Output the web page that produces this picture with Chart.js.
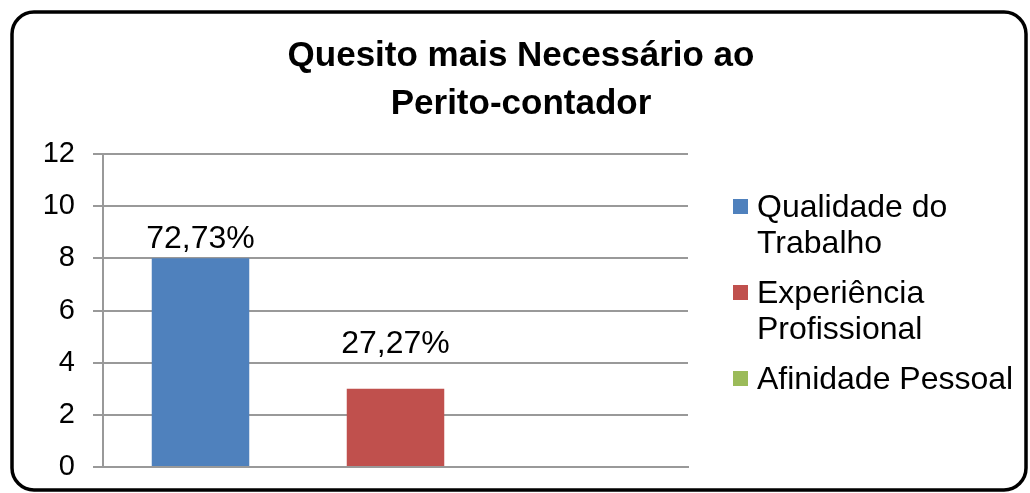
<!DOCTYPE html>
<html>
<head>
<meta charset="utf-8">
<script src="https://cdn.jsdelivr.net/npm/chart.js@4/dist/chart.umd.min.js"></script>
<style>
  html, body { margin: 0; padding: 0; background: #fff; }
  #wrap { width: 1030px; height: 493px; position: relative; }
</style>
</head>
<body>
<div id="wrap"><canvas id="chart"></canvas></div>
<script>
/* ── DATA ─────────────────────────────────────── */
const titleLines = ['Quesito mais Necessário ao', 'Perito-contador'];
const categories = ['Qualidade do Trabalho', 'Experiência Profissional', 'Afinidade Pessoal'];
const legendLines = [['Qualidade do', 'Trabalho'], ['Experiência', 'Profissional'], ['Afinidade Pessoal']];
const values = [8, 3, 0];
const yTicks = [0, 2, 4, 6, 8, 10, 12];
const colors = ['#4F81BD', '#C0504D', '#9BBB59'];

const FONT = "'Liberation Sans', Arial, sans-serif";
Chart.defaults.font.family = FONT;
Chart.defaults.color = '#000';

const total = values.reduce((a, b) => a + b, 0);
const pctText = v => (v / total * 100).toFixed(2).replace('.', ',') + '%';

// distance between label baseline and bar top (labels were moved by hand in the original)
const labelGap = [10, 36, 0];

/* ── PLUGINS ──────────────────────────────────── */
const frame = {
    id: 'frame',
    beforeDraw(chart) {
        const ctx = chart.ctx;
        ctx.save();
        ctx.lineWidth = 3.5;
        ctx.strokeStyle = '#000';
        ctx.beginPath();
        ctx.roundRect(12, 12, 1014, 478, 22);
        ctx.stroke();
        ctx.restore();
    }
};

const headAndLegend = {
    id: 'headAndLegend',
    afterDraw(chart) {
        const { ctx, chartArea } = chart;
        ctx.save();
        // title
        ctx.fillStyle = '#000';
        ctx.textAlign = 'center';
        ctx.textBaseline = 'alphabetic';
        ctx.font = 'bold 35px ' + FONT;
        titleLines.forEach((t, i) => ctx.fillText(t, 521, 66 + i * 48));

        // legend
        ctx.font = '32px ' + FONT;
        ctx.textAlign = 'left';
        let y = chartArea.top + 63;
        const x = chartArea.right + 45;
        legendLines.forEach((lines, i) => {
            ctx.fillStyle = colors[i];
            ctx.fillRect(x, y - 18, 15, 15);
            ctx.fillStyle = '#000';
            lines.forEach(l => { ctx.fillText(l, x + 24, y); y += 36; });
            y += 14;
        });
        ctx.restore();
    }
};

const barLabels = {
    id: 'barLabels',
    afterDatasetsDraw(chart) {
        const ctx = chart.ctx;
        const meta = chart.getDatasetMeta(0);
        ctx.save();
        ctx.font = '32px ' + FONT;
        ctx.fillStyle = '#000';
        ctx.textAlign = 'center';
        ctx.textBaseline = 'alphabetic';
        meta.data.forEach((bar, i) => {
            if (!values[i]) return;
            ctx.fillText(pctText(values[i]), bar.x, bar.y - labelGap[i]);
        });
        ctx.restore();
    }
};

/* ── CHART ────────────────────────────────────── */
new Chart(document.getElementById('chart'), {
    type: 'bar',
    data: {
        labels: categories,
        datasets: [{
            data: values,
            backgroundColor: colors,
            categoryPercentage: 1,
            barPercentage: 0.5
        }]
    },
    options: {
        responsive: true,
        maintainAspectRatio: false,
        animation: false,
        layout: { padding: { left: 12, top: 154, right: 342, bottom: 26 } },
        plugins: {
            legend: { display: false },
            title: { display: false },
            tooltip: { enabled: false }
        },
        scales: {
            x: {
                ticks: { display: false },
                grid: { display: false, drawTicks: false },
                border: { color: '#999', width: 2 }
            },
            y: {
                min: yTicks[0],
                max: yTicks[yTicks.length - 1],
                afterBuildTicks: s => { s.ticks = yTicks.map(v => ({ value: v })); },
                afterFit: s => { s.width = 91; s.paddingTop = 0; s.paddingBottom = 0; },
                ticks: { font: { size: 29 }, color: '#000', padding: 18 },
                grid: { color: '#999', lineWidth: 2, tickLength: 10 },
                border: { color: '#999', width: 2 }
            }
        }
    },
    plugins: [frame, barLabels, headAndLegend]
});
</script>
</body>
</html>
